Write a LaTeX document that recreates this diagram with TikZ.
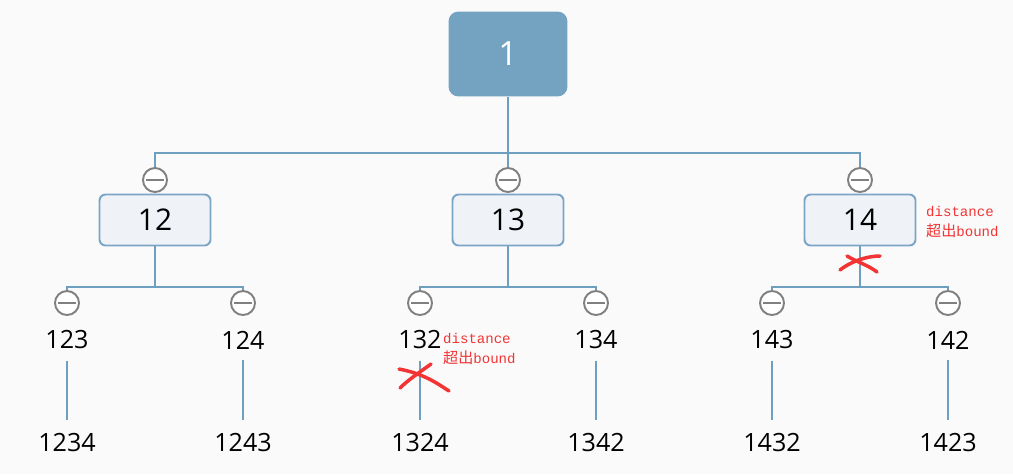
\documentclass[tikz,border=0pt]{standalone}
\usepackage{fontspec}
\setmainfont{Open Sans}
\newfontfamily\cjkfont{Noto Sans CJK SC}
\newfontfamily\notefont{Liberation Mono}
\definecolor{bgpaper}{HTML}{FAFAFA}
\definecolor{rootblue}{HTML}{74A3C2}
\definecolor{linkblue}{HTML}{6E9EC0}
\definecolor{boxedge}{HTML}{7BA5C5}
\definecolor{boxfill}{HTML}{EFF3F7}
\definecolor{foldgray}{HTML}{808080}
\definecolor{markred}{HTML}{F23434}
\begin{document}
\begin{tikzpicture}[x=0.02cm, y=-0.02cm,
  link/.style={draw=linkblue, line width=1.1pt},
  rootbox/.style={rectangle, rounded corners=0.2cm, fill=rootblue, text=white, minimum width=2.38cm, minimum height=1.7cm, font=\fontsize{19pt}{22pt}\selectfont},
  topicbox/.style={rectangle, rounded corners=0.12cm, draw=boxedge, fill=boxfill, line width=1.1pt, minimum width=2.22cm, minimum height=1.02cm, font=\fontsize{17pt}{20pt}\selectfont},
  leaf/.style={inner sep=0pt, font=\fontsize{14.3pt}{17pt}\selectfont},
  fold/.style={circle, draw=foldgray, fill=white, line width=1.1pt, minimum size=0.48cm, inner sep=0pt, path picture={\draw[foldgray, line width=1.1pt] ([xshift=-0.18cm]path picture bounding box.center) -- ([xshift=0.18cm]path picture bounding box.center);}},
  note/.style={anchor=west, align=left, text=markred, font=\fontsize{8pt}{11.3pt}\notefont},
  cross/.style={draw=markred, line width=2pt, line cap=round}
]
  \useasboundingbox[fill=bgpaper] (0,0) rectangle (1013,474);

  \node[rootbox] (root) at (508,54) {1};
  \foreach \n/\x in {12/155, 13/508, 14/860} {
    \node[fold] (f\n) at (\x,180) {};
    \node[topicbox] (t\n) at (\x,220) {\n};
  }
  \coordinate (hub) at (508,153);
  \draw[link] (root) -- (f13);
  \draw[link] (f12) |- (hub) -| (f14);

  \foreach \n/\x/\a/\b in {12/155/123/124, 13/508/132/134, 14/860/143/142} {
    \node[fold] (f\a) at (\x-88,303) {};
    \node[fold] (f\b) at (\x+88,303) {};
    \coordinate (j\n) at (\x,287);
    \draw[link] (t\n) -- (j\n);
    \draw[link] (f\a) |- (j\n) -| (f\b);
    \node[leaf] (l\a) at (\x-88,340) {\a};
    \node[leaf] (l\b) at (\x+88,340) {\b};
  }

  \foreach \a/\c in {123/1234, 124/1243, 132/1324, 134/1342, 143/1432, 142/1423} {
    \node[leaf] (l\c) at ([yshift=-2.06cm]l\a.center) {\c};
    \draw[link, shorten <=0.22cm, shorten >=0.27cm] (l\a) -- (l\c);
  }

  \node[note] (n14) at (920,222) {distance\\{\cjkfont\fontsize{8.6pt}{11.3pt}\selectfont 超出}bound};
  \node[note] (n132) at (437,349) {distance\\{\cjkfont\fontsize{8.6pt}{11.3pt}\selectfont 超出}bound};

  \draw[cross] (847,256) .. controls (857,262) and (868,265) .. (877,272);
  \draw[cross] (880,256) .. controls (866,256) and (850,262) .. (840,270);
  \draw[cross] (399,369) .. controls (425,374) and (438,384) .. (449,391);
  \draw[cross] (431,364) .. controls (420,372) and (408,380) .. (400,388);
\end{tikzpicture}
\end{document}
